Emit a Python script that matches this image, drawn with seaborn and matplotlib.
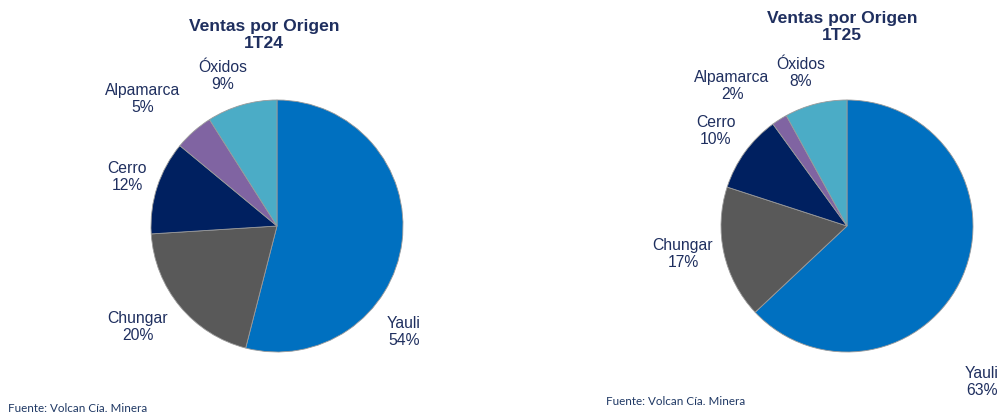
import matplotlib
matplotlib.use("Agg")
import matplotlib.pyplot as plt
import seaborn as sns

sns.set_theme(style="white")
plt.rcParams['font.family'] = ['Liberation Sans', 'DejaVu Sans']

categories = ["Yauli", "Chungar", "Cerro", "Alpamarca", "Óxidos"]
values_1t24 = [54, 20, 12, 5, 9]
values_1t25 = [63, 17, 10, 2, 8]
titles = ["Ventas por Origen\n1T24", "Ventas por Origen\n1T25"]
source = "Fuente: Volcan Cía. Minera"

colors = ["#0070C0", "#595959", "#002060", "#8064A2", "#4BACC6"]
text_color = "#1F2F5F"

W, H = 1003, 415
fig = plt.figure(figsize=(W / 100, H / 100), dpi=100)

def px_axes(cx, cy, half=150):
    ax = fig.add_axes([(cx - half) / W, (H - cy - half) / H, 2 * half / W, 2 * half / H])
    ax.axis("off")
    return ax

pies = [
    dict(vals=values_1t24, cx=277, cy=226, r=126,
         title_xy=(264, 35),
         label_xy=[(404, 332), (138, 327), (127, 177), (143, 99), (223, 76)],
         src_xy=(8, 408)),
    dict(vals=values_1t25, cx=847, cy=226, r=126,
         title_xy=(842, 27),
         label_xy=[(982, 382), (683, 254), (716, 131), (732, 86), (801, 73)],
         src_xy=(606, 401)),
]

for p, title in zip(pies, titles):
    ax = px_axes(p["cx"], p["cy"])
    ax.pie(p["vals"], colors=colors, startangle=90, counterclock=False,
           radius=1.0, wedgeprops=dict(edgecolor="#9a9a9a", linewidth=0.6))
    lim = 150 / p["r"]
    ax.set_xlim(-lim, lim)
    ax.set_ylim(-lim, lim)
    ax.set_aspect("equal")
    ax.axis("off")
    fig.text(p["title_xy"][0] / W, 1 - p["title_xy"][1] / H, title,
             ha="center", va="center", fontsize=12.6, fontweight="bold",
             color=text_color, linespacing=1.2)
    for cat, v, (lx, ly) in zip(categories, p["vals"], p["label_xy"]):
        fig.text(lx / W, 1 - ly / H, f"{cat}\n{v}%", ha="center", va="center",
                 fontsize=11.3, color=text_color, linespacing=1.1)
    fig.text(p["src_xy"][0] / W, 1 - p["src_xy"][1] / H, source,
             ha="left", va="center", fontsize=8.4, color="#1F3864",
             family=["Lato", "DejaVu Sans"])

fig.savefig("out.png", dpi=100, facecolor="white")
